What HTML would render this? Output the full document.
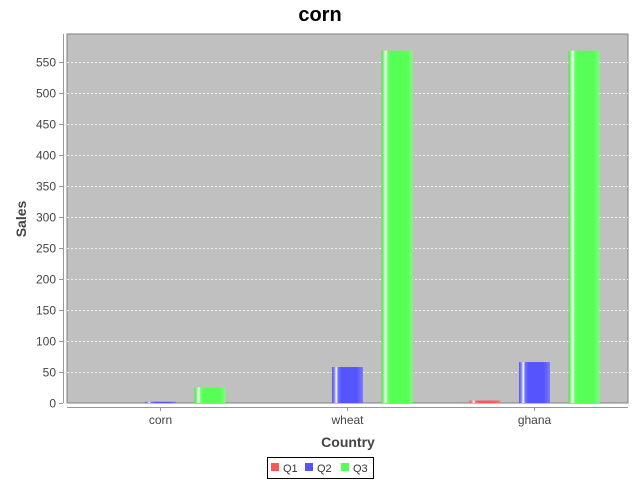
<!DOCTYPE html>
<html><head><meta charset="utf-8"><style>
body{margin:0;background:#fff;}
svg{display:block;font-family:"Liberation Sans","DejaVu Sans",sans-serif;}
</style></head><body>
<svg id="chart" width="640" height="480">
<defs>
<linearGradient id="gQ1" x1="0" x2="1" y1="0" y2="0"><stop offset="0" stop-color="#d85555"/><stop offset="0.08" stop-color="#ff8a8a"/><stop offset="0.14" stop-color="#ffffff"/><stop offset="0.2" stop-color="#ff7070"/><stop offset="0.3" stop-color="#ff5555"/><stop offset="0.8" stop-color="#ff5555"/><stop offset="1" stop-color="#ff7a7a"/></linearGradient>
<linearGradient id="gQ2" x1="0" x2="1" y1="0" y2="0"><stop offset="0" stop-color="#5555d8"/><stop offset="0.08" stop-color="#8a8aff"/><stop offset="0.14" stop-color="#ffffff"/><stop offset="0.2" stop-color="#7070ff"/><stop offset="0.3" stop-color="#5555ff"/><stop offset="0.8" stop-color="#5555ff"/><stop offset="1" stop-color="#7a7aff"/></linearGradient>
<linearGradient id="gQ3" x1="0" x2="1" y1="0" y2="0"><stop offset="0" stop-color="#55d855"/><stop offset="0.08" stop-color="#8aff8a"/><stop offset="0.14" stop-color="#ffffff"/><stop offset="0.2" stop-color="#70ff70"/><stop offset="0.3" stop-color="#55ff55"/><stop offset="0.8" stop-color="#55ff55"/><stop offset="1" stop-color="#7aff7a"/></linearGradient>
</defs>
<text x="320" y="21" text-anchor="middle" font-size="20" font-weight="bold">corn</text>
<rect x="67" y="34" width="561" height="369" fill="#c0c0c0" stroke="#808080" stroke-width="1"/>
<g id="grid"></g>
<g id="bars"></g>
<line x1="63.5" y1="34" x2="63.5" y2="403" stroke="#999"/>
<line x1="67" y1="407.5" x2="628" y2="407.5" stroke="#999"/>
<g id="yticks"></g>
<g id="xticks"></g>
<text transform="translate(26,219) rotate(-90)" text-anchor="middle" font-size="14" font-weight="bold" fill="#444">Sales</text>
<text x="348" y="447" text-anchor="middle" font-size="14" font-weight="bold" fill="#444">Country</text>
<g>
<rect x="267.5" y="457.5" width="106" height="21" fill="#fff" stroke="#000"/>
<rect x="271" y="463" width="8" height="8" fill="#ff5555"/>
<text x="283" y="472" font-size="11" fill="#333">Q1</text>
<rect x="305" y="463" width="8" height="8" fill="#5555ff"/>
<text x="317" y="472" font-size="11" fill="#333">Q2</text>
<rect x="341" y="463" width="8" height="8" fill="#55ff55"/>
<text x="353" y="472" font-size="11" fill="#333">Q3</text>
</g>
</svg>
<script>
const categories = ["corn", "wheat", "ghana"];
const seriesNames = ["Q1", "Q2", "Q3"];
const q1Values = [0, 0, 4];
const q2Values = [2, 58, 66];
const q3Values = [25, 568, 568];
const yTicks = [0, 50, 100, 150, 200, 250, 300, 350, 400, 450, 500, 550];

const NS = "http://www.w3.org/2000/svg";
const plotL = 67, plotR = 628, plotT = 34, plotB = 403, yMax = 595;
function yScale(v){ return plotB - v / yMax * (plotB - plotT); }
const catW = (plotR - plotL) / categories.length;
function xCenter(i){ return plotL + catW * (i + 0.5); }
function mk(tag, attrs, parent){ const e = document.createElementNS(NS, tag); for (const k in attrs) e.setAttribute(k, attrs[k]); parent.appendChild(e); return e; }

const grid = document.getElementById("grid"), yt = document.getElementById("yticks"), xt = document.getElementById("xticks"), bars = document.getElementById("bars");
yTicks.forEach(t => {
  const y = Math.round(yScale(t)) + 0.5;
  if (t > 0) {
    const g = mk("line", {x1: plotL, x2: plotR, y1: y, y2: y, stroke: "#ffffff", "stroke-dasharray": "2,2", "stroke-width": 0.8}, grid);
    
    
  }
  mk("line", {x1: 59, x2: 63, y1: y, y2: y, stroke: "#999"}, yt);
  const lbl = mk("text", {x: 56, y: y + 4, "text-anchor": "end", "font-size": 12, fill: "#444"}, yt);
  lbl.textContent = t;
  
  
});
const series = [q1Values, q2Values, q3Values];
const grads = ["url(#gQ1)", "url(#gQ2)", "url(#gQ3)"];
const barW = 31, step = 49.5;
categories.forEach((c, i) => {
  const cx = xCenter(i);
  mk("line", {x1: cx, x2: cx, y1: 407, y2: 411, stroke: "#999"}, xt);
  const lbl = mk("text", {x: cx, y: 424, "text-anchor": "middle", "font-size": 12, fill: "#444"}, xt);
  lbl.textContent = c;
  
  
  series.forEach((vals, s) => {
    const v = vals[i];
    if (v <= 0) return;
    const x = cx + (s - 1) * step - barW / 2;
    const y = yScale(v);
    const r = mk("rect", {x: x, y: y, width: barW, height: plotB - y, fill: grads[s]}, bars);
    
    
  });
});
</script>
</body></html>
